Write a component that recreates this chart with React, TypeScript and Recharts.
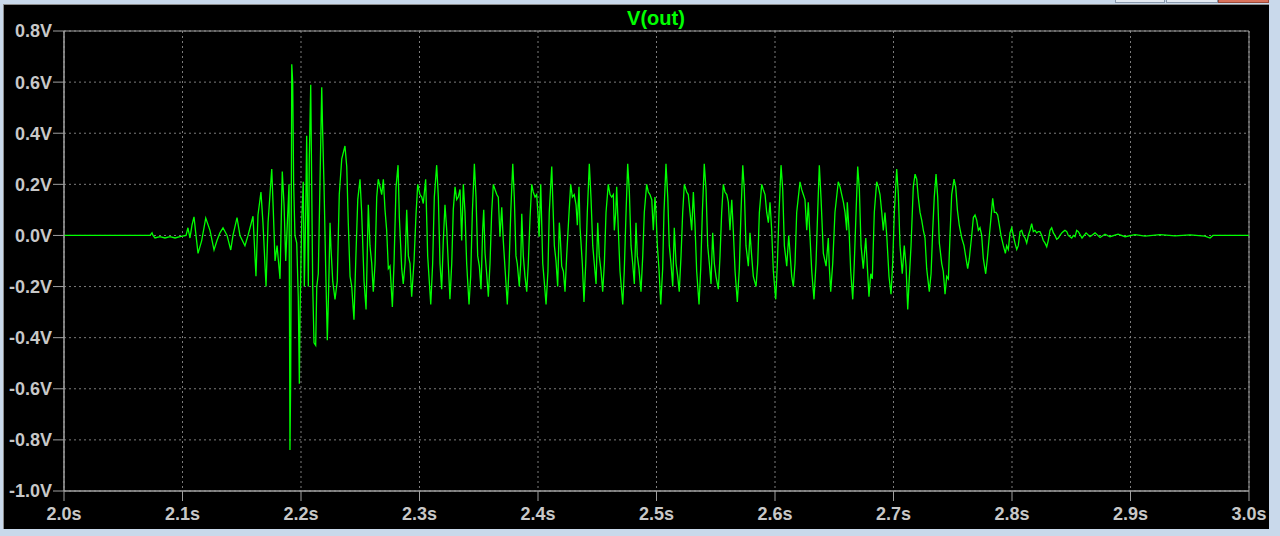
import { LineChart, Line, XAxis, YAxis, CartesianGrid, ReferenceArea } from 'recharts'

// time in ms after t = 2.0 s, paired with V(out) in volts
const T_ONSET = [
  0, 72.6, 74.3, 75.1, 76.8, 81.0, 85.2, 89.5, 93.7, 97.9,
  103.0, 104.6, 106.3, 108.0, 109.7, 111.4, 113.1, 116.2, 119.6, 123.2,
  126.6, 129.1, 131.6, 134.2, 137.6, 140.7, 142.6, 146.0, 148.5, 152.7,
  155.3, 157.0, 159.5, 162.0, 163.7, 166.2, 167.9, 170.5, 172.2, 175.3,
  176.6, 178.1, 179.8, 182.3, 184.2, 185.7, 187.1, 188.4, 189.9, 190.7,
  191.3, 191.6, 192.2, 193.0, 193.8, 194.9, 196.4, 197.7, 198.6, 199.2,
  200.6, 201.9, 202.8, 204.0, 204.8, 206.2, 207.0, 208.2, 209.0, 209.9,
  211.0, 212.4, 213.3, 214.6, 216.0, 217.5, 218.3, 219.4, 220.8, 222.2,
  223.4, 224.5, 225.3, 226.8, 228.7, 230.6, 232.3, 234.4, 237.1, 238.6,
]
const V_ONSET = [
  0, 0, 0.01, 0, -0.01, -0.005, -0.01, -0.005, -0.01, -0.005,
  0, 0.03, -0.01, 0.04, 0.073, 0.0, -0.07, -0.02, 0.068, 0.02,
  -0.057, -0.02, 0.01, 0.03, 0.0, -0.057, 0.0, 0.07, 0.0, -0.04,
  0.0, 0.03, 0.075, -0.16, 0.08, 0.17, 0.05, -0.2, 0.05, 0.26,
  0.1, -0.1, -0.04, -0.17, 0.25, 0.12, -0.1, 0.04, 0.2, -0.84,
  -0.55, -0.2, 0.67, 0.6, 0.2, 0.0, -0.03, -0.24, -0.58, -0.3,
  0.05, 0.21, -0.2, 0.1, 0.39, -0.2, 0.3, 0.59, 0.21, -0.2,
  -0.42, -0.43, -0.2, -0.15, 0.2, 0.58, 0.4, 0.2, -0.12, -0.41,
  -0.2, 0.05, -0.05, -0.18, -0.25, -0.18, 0.16, 0.3, 0.35, 0.27,
]

const T_BURST = [
  239.9, 241.4, 242.8, 244.7, 246.2, 247.9, 249.8, 251.2, 253.2, 254.9,
  256.8, 258.2, 259.7, 261.0, 262.5, 263.9, 265.2, 266.7, 268.1, 269.5,
  270.9, 272.3, 273.7, 275.1, 277.1, 278.5, 280.2, 281.9, 283.0, 285.0,
  286.3, 287.8, 289.2, 290.6, 292.0, 293.4, 295.4, 297.1, 298.5, 300.4,
  301.9, 303.2, 305.2, 306.9, 309.5, 311.1, 312.5, 314.5, 315.9, 317.3,
  318.7, 320.1, 321.5, 323.0, 324.3, 325.7, 327.2, 328.5, 330.0, 331.4,
  332.7, 334.2, 335.6, 337.0, 338.4, 339.8, 341.8, 343.2, 344.6, 346.3,
  347.7, 349.1, 350.5, 351.9, 353.3, 354.2, 355.3, 356.7, 358.1, 359.5,
  360.9, 362.3, 363.7, 365.2, 366.5, 367.9, 369.4, 370.7, 372.2, 374.1,
  375.5, 377.0, 378.7, 380.0, 381.4, 382.5, 384.2, 385.4, 386.3, 387.6,
  389.0, 390.5, 391.8, 393.3, 394.7, 396.0, 397.5, 398.9, 400.3, 400.9,
  402.3, 404.0, 405.1, 406.8, 408.4, 409.5, 411.6, 412.4, 413.8, 415.2,
  416.6, 418.0, 418.6, 420.0, 421.4, 422.8, 424.2, 426.2, 427.6, 429.0,
  430.6, 432.1, 433.2, 434.6, 435.5, 437.4, 438.8, 440.3, 441.6, 443.3,
  444.7, 446.2, 447.5, 449.0, 450.4, 451.7, 453.2, 454.6, 456.0, 457.4,
  459.3, 460.8, 462.2, 463.6, 464.4, 465.6, 466.4, 467.8, 469.2, 471.5,
  472.8, 474.3, 475.7, 477.1, 478.5, 479.9, 481.3, 482.7, 483.8, 485.2,
  486.9, 488.4, 489.7, 491.7, 493.1, 494.5, 496.0, 497.3, 498.7, 499.6,
  500.7, 502.1, 503.6, 505.2, 506.3, 508.0, 509.5, 510.8, 512.2, 513.7,
  515.0, 516.5, 517.9, 519.2, 520.7, 522.1, 523.5, 525.5, 526.8, 528.3,
  529.7, 531.1, 532.5, 533.9, 535.9, 537.3, 538.7, 540.3, 541.8, 543.2,
  544.6, 546.0, 547.4, 548.8, 550.2, 552.2, 553.6, 555.0, 556.4, 557.8,
  559.3, 560.6, 562.0, 563.5, 564.8, 566.3, 568.2, 569.9, 571.3, 572.8,
  574.1, 575.5, 577.5, 578.9, 580.3, 581.7, 584.0, 585.4, 586.8, 588.8,
  590.1, 591.6, 593.0, 594.4, 595.8, 597.2, 598.6, 600.6, 602.0, 603.4,
  605.1, 606.5, 607.9, 609.9, 611.6, 612.7, 614.1, 615.5, 616.9, 618.3,
  621.1, 622.5, 623.9, 625.3, 626.8, 628.1, 629.6, 631.0, 632.9, 634.6,
  636.0, 637.4, 638.8, 640.8, 643.1, 645.0, 645.8, 647.0, 648.7, 650.6,
  653.4, 654.9, 656.3, 657.7, 659.1, 660.5, 661.0, 662.5, 663.9, 665.6,
  666.9, 668.4, 669.8, 671.2, 672.6, 674.5, 676.6, 677.9, 679.3, 680.8,
  682.1, 683.8, 685.8, 687.2, 688.6, 690.1, 691.4, 692.8, 694.3, 696.2,
  697.9, 699.3, 700.7, 702.7, 704.1, 705.5, 707.4, 709.1, 710.6, 712.0,
  713.3, 714.8, 716.7, 718.2, 719.6, 720.9, 722.4, 723.8, 725.2, 726.6,
  728.0, 730.2, 731.7, 733.1, 734.4, 735.9, 737.3, 738.7, 740.7, 742.0,
  743.5, 744.9, 746.3,
]
const V_BURST = [
  0.05, -0.16, -0.2, -0.33, -0.1, 0.14, 0.22, 0.09, -0.18, -0.29,
  0.12, -0.04, -0.11, -0.22, -0.11, 0.15, 0.22, 0.19, 0.16, 0.22,
  0.1, 0.02, -0.13, -0.12, -0.28, -0.11, 0.19, 0.275, 0.07, -0.13,
  -0.19, -0.11, 0.1, -0.08, -0.11, -0.24, -0.1, 0.086, 0.2, 0.16,
  0.15, 0.125, 0.22, -0.08, -0.27, -0.11, 0.15, 0.275, 0.15, -0.11,
  -0.21, -0.02, 0.12, 0.02, -0.11, -0.25, -0.11, 0.1, 0.19, 0.14,
  0.15, 0.18, -0.02, 0.2, 0.09, -0.11, -0.27, -0.16, 0.09, 0.28,
  0.15, -0.08, -0.12, -0.21, 0.02, 0.1, -0.07, -0.15, -0.24, -0.11,
  0.09, 0.2, 0.18, 0.16, 0.15, -0.005, 0.11, -0.02, -0.13, -0.27,
  -0.13, 0.09, 0.28, 0.15, -0.08, -0.11, -0.2, -0.11, 0.085, -0.08,
  -0.16, -0.22, -0.11, 0.07, 0.2, 0.17, 0.15, 0.16, 0.06, -0.005,
  0.2, -0.11, -0.17, -0.27, -0.14, 0.09, 0.27, 0.15, -0.04, -0.1,
  -0.2, 0.05, 0.01, -0.12, -0.14, -0.22, -0.08, 0.09, 0.2, 0.15,
  0.16, 0.12, 0.04, 0.19, 0.03, -0.11, -0.26, -0.11, 0.09, 0.28,
  0.15, -0.04, -0.11, -0.19, 0.05, -0.08, -0.14, -0.22, -0.11, 0.09,
  0.2, 0.16, 0.15, 0.16, 0.02, 0.09, 0.19, 0.02, -0.14, -0.27,
  -0.14, 0.09, 0.28, 0.17, -0.04, -0.11, -0.19, 0.05, -0.08, -0.13,
  -0.22, -0.08, 0.09, 0.2, 0.17, 0.16, 0.14, 0.02, 0.15, 0.09,
  -0.04, -0.13, -0.27, -0.13, 0.09, 0.28, 0.15, -0.04, -0.11, -0.2,
  0.03, -0.11, -0.16, -0.22, -0.08, 0.09, 0.2, 0.17, 0.16, 0.09,
  0.02, 0.17, 0.04, -0.14, -0.27, -0.13, 0.09, 0.28, 0.18, -0.04,
  -0.11, -0.19, 0.01, -0.11, -0.16, -0.21, -0.08, 0.09, 0.2, 0.17,
  0.16, 0.13, 0.02, 0.14, 0.02, -0.14, -0.26, -0.13, 0.09, 0.275,
  0.18, -0.04, -0.12, 0.01, -0.08, -0.16, -0.2, -0.11, 0.09, 0.2,
  0.18, 0.16, 0.09, 0.05, 0.13, 0.02, -0.14, -0.25, -0.11, 0.09,
  0.275, 0.18, -0.04, -0.12, 0.0, -0.07, -0.16, -0.2, -0.11, 0.09,
  0.21, 0.18, 0.16, 0.14, 0.02, 0.13, -0.01, -0.14, -0.25, -0.11,
  0.09, 0.275, 0.15, -0.07, -0.12, -0.01, -0.12, -0.22, -0.11, 0.09,
  0.21, 0.19, 0.16, 0.13, 0.09, 0.02, 0.13, 0.02, -0.14, -0.25,
  -0.11, 0.09, 0.27, 0.18, -0.04, -0.13, -0.01, -0.12, -0.24, -0.15,
  -0.17, 0.09, 0.21, 0.19, 0.16, 0.09, 0.02, 0.09, 0, -0.16,
  -0.23, -0.11, 0.09, 0.26, 0.16, -0.04, -0.15, -0.04, -0.12, -0.29,
  -0.17, -0.04, 0.19, 0.24, 0.22, 0.15, 0.09, 0.06, 0.02, -0.01,
  -0.13, -0.22, -0.15, 0.02, 0.15, 0.24, 0.15, -0.03, -0.11, -0.14,
  -0.23, -0.16, -0.17,
]

const T_DECAY = [
  747.7, 749.1, 751.1, 752.5, 753.9, 755.5, 757.6, 759.5, 761.2, 762.6,
  764.0, 766.0, 767.4, 768.8, 770.2, 771.6, 773.0, 774.4, 775.8, 777.8,
  779.2, 780.9, 782.3, 783.7, 785.1, 786.5, 787.9, 789.3, 790.7, 792.7,
  794.4, 795.5, 796.9, 798.3, 799.8, 801.1, 802.5, 804.0, 805.3, 806.8,
  808.2, 809.5, 811.0, 812.4, 813.8, 815.2, 816.6, 818.0, 819.4, 820.9,
  822.2, 823.6, 825.1, 826.4, 827.9, 829.3, 830.6, 832.1, 833.5, 834.9,
  836.3, 837.7, 839.1, 840.5, 842.0, 843.3, 844.7, 846.2, 847.5, 849.0,
  850.4, 851.8, 853.2, 854.6, 856.0, 859.1, 862.5, 865.8, 870.1, 874.3,
  878.5, 882.7, 889.5, 895.4, 903.8, 912.3, 924.9, 937.6, 950.2, 962.9,
  967.1, 969.6, 975.5, 1000,
]
const V_DECAY = [
  0, 0.16, 0.22, 0.19, 0.1, 0.04, -0.01, -0.04, -0.09, -0.13,
  -0.09, 0, 0.07, 0.08, 0.06, 0.02, 0.03, 0, -0.09, -0.15,
  -0.09, 0, 0.07, 0.145, 0.09, 0.09, 0.08, 0.04, 0, -0.04,
  -0.07, -0.04, -0.055, 0.01, 0.03, 0, -0.03, -0.055, -0.04, 0.015,
  0.02, 0, -0.01, -0.03, 0, 0.02, 0.046, 0.015, 0.02, 0.01,
  0.015, 0.015, 0, -0.02, -0.03, -0.044, -0.02, 0.02, 0.03, 0.01,
  0, -0.015, -0.01, 0, 0.01, 0.015, 0.02, 0.015, 0, -0.005,
  -0.01, 0, -0.005, 0.02, 0.015, -0.01, 0.01, -0.005, 0.01, -0.008,
  0.005, -0.005, 0.005, -0.005, 0.003, -0.003, 0.003, -0.002, 0.002, -0.003,
  -0.01, 0, 0, 0,
]

const X_TICKS = [2.0, 2.1, 2.2, 2.3, 2.4, 2.5, 2.6, 2.7, 2.8, 2.9, 3.0]
const Y_TICKS = [-1.0, -0.8, -0.6, -0.4, -0.2, 0.0, 0.2, 0.4, 0.6, 0.8]

const FONT = '"Liberation Sans", Arial, sans-serif'
const tickStyle = { fill: '#c8c8c8', fontSize: 18, fontWeight: 'bold', fontFamily: FONT }

function buildData() {
  const rows: { t: number; v: number }[] = []
  const segs: [number[], number[]][] = [[T_ONSET, V_ONSET], [T_BURST, V_BURST], [T_DECAY, V_DECAY]]
  for (const [ts, vs] of segs) {
    const n = Math.min(ts.length, vs.length)
    for (let i = 0; i < n; i++) rows.push({ t: 2 + ts[i] / 1000, v: vs[i] })
  }
  return rows
}

export default function App() {
  const data = buildData()

  return (
    <div style={{ position: 'fixed', left: 0, top: 0, width: 1280, height: 536, background: '#c9d9eb', overflow: 'hidden' }}>
      {/* window buttons peeking in at the top right */}
      <div style={{ position: 'absolute', left: 1115, top: -3, width: 48, height: 4, background: '#e4ebf3', border: '1px solid #8a9aae' }} />
      <div style={{ position: 'absolute', left: 1166, top: -3, width: 50, height: 4, background: '#e4ebf3', border: '1px solid #8a9aae' }} />
      <div style={{ position: 'absolute', left: 1218, top: -3, width: 49, height: 4, background: '#d9725c', border: '1px solid #9a4a3a' }} />

      <div style={{ position: 'absolute', left: 3, top: 4, width: 1265, height: 524, background: '#000', borderTop: '1px solid #8c8c8c', borderLeft: '1px solid #8c8c8c' }} />

      <div style={{ position: 'absolute', left: 596, top: 7, width: 120, textAlign: 'center', color: '#00ff00', fontFamily: FONT, fontWeight: 'bold', fontSize: 20, lineHeight: '22px' }}>
        V(out)
      </div>

      <div style={{ position: 'absolute', left: 0, top: 0 }}>
        <LineChart width={1280} height={536} data={data} margin={{ top: 31, right: 31, bottom: 0, left: 14 }}>
          <CartesianGrid stroke="#7c7c7c" strokeDasharray="2 3" />
          <XAxis
            type="number"
            dataKey="t"
            domain={[2, 3]}
            ticks={X_TICKS}
            interval={0}
            height={45}
            tickSize={10}
            tickMargin={6}
            tickFormatter={(v: number) => v.toFixed(1) + 's'}
            tick={tickStyle}
            axisLine={{ stroke: '#a0a0a0' }}
            tickLine={{ stroke: '#a0a0a0' }}
          />
          <YAxis
            type="number"
            domain={[-1, 0.8]}
            ticks={Y_TICKS}
            interval={0}
            width={50}
            tickSize={11}
            tickMargin={1}
            tickFormatter={(v: number) => v.toFixed(1) + 'V'}
            tick={tickStyle}
            axisLine={{ stroke: '#a0a0a0' }}
            tickLine={{ stroke: '#a0a0a0' }}
          />
          <ReferenceArea x1={2} x2={3} y1={-1} y2={0.8} fill="#000" fillOpacity={0} stroke="#a0a0a0" strokeWidth={1} />
          <Line
            type="linear"
            dataKey="v"
            stroke="#00ff00"
            strokeWidth={1.3}
            dot={false}
            isAnimationActive={false}
          />
        </LineChart>
      </div>
    </div>
  )
}
